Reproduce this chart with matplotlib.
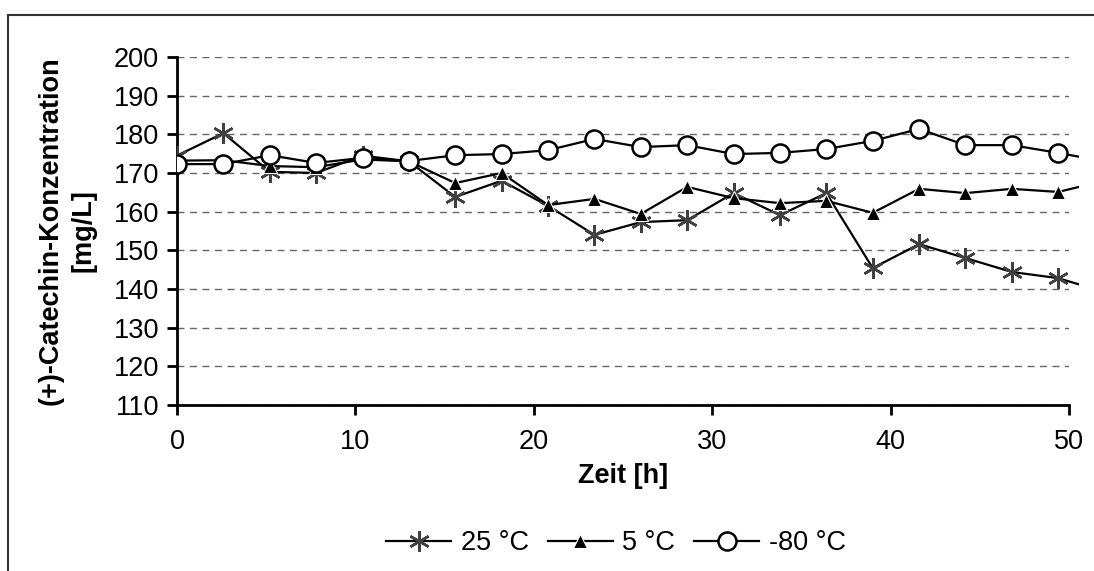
import matplotlib.pyplot as plt
from matplotlib.patches import Rectangle

plt.rcParams["font.family"] = ["Liberation Sans", "DejaVu Sans"]

# sampling times in hours (last one lies just past the axis end)
zeit = [0, 2.6, 5.2, 7.8, 10.4, 13.0, 15.6, 18.2, 20.8, 23.4, 26.0,
        28.6, 31.2, 33.8, 36.4, 39.0, 41.6, 44.2, 46.8, 49.4, 52.0]

c_25 = [174.5, 180.3, 170.3, 170.0, 174.5, 173.0, 163.8, 168.0, 161.5, 154.0, 157.3,
        157.8, 164.8, 159.1, 164.8, 145.4, 151.6, 148.0, 144.4, 142.8, 139.2]
c_5 = [173.2, 173.3, 171.8, 171.5, 173.5, 173.0, 167.4, 170.0, 161.7, 163.3, 159.4,
       166.4, 163.5, 162.2, 162.8, 159.7, 165.9, 164.8, 165.9, 165.1, 168.0]
c_m80 = [172.3, 172.3, 174.6, 172.6, 173.9, 173.1, 174.6, 174.9, 175.9, 178.8, 176.7,
         177.2, 174.9, 175.2, 176.2, 178.3, 181.4, 177.2, 177.2, 175.2, 173.0]

labels = ["25 °C", "5 °C", "-80 °C"]
fs = 19.5

fig = plt.figure(figsize=(10.94, 5.71), dpi=100)
ax = fig.add_axes([0.1618, 0.2907, 0.8153, 0.6095])

lines = []
lines += ax.plot(zeit, c_25, color="black", lw=1.6, marker=(6, 2, 0), ms=15,
                 mec="#404040", mew=1.8, label=labels[0], zorder=3)
lines += ax.plot(zeit, c_5, color="black", lw=1.6, marker="^", ms=9.5,
                 mfc="black", mec="white", mew=0.8, label=labels[1], zorder=4)
lines += ax.plot(zeit, c_m80, color="black", lw=1.6, marker="o", ms=13,
                 mfc="white", mec="black", mew=1.8, label=labels[2], zorder=5)

# plot area is a bit wider than the x axis
clip = Rectangle((0, -0.05), 1.011, 1.1, transform=ax.transAxes)
for ln in lines:
    ln.set_clip_path(clip)

ax.set_xlim(0, 50)
ax.set_ylim(110, 200)
ax.set_xticks(range(0, 51, 10))
ax.set_yticks(range(110, 201, 10))
ax.yaxis.grid(True, linestyle=(0, (5, 4)), color="#666666", lw=1)
ax.set_axisbelow(True)

for s in ["top", "right"]:
    ax.spines[s].set_visible(False)
for s in ["left", "bottom"]:
    ax.spines[s].set_linewidth(2)
ax.tick_params(direction="out", length=7, width=2, labelsize=fs, pad=6)
ax.tick_params(axis="x", pad=10)

ax.set_xlabel("Zeit [h]", fontsize=fs, fontweight="bold", labelpad=6)
ax.set_ylabel("(+)-Catechin-Konzentration\n[mg/L]", fontsize=fs,
              fontweight="bold", labelpad=12, linespacing=1.35)

fig.legend(handles=lines, loc="center", bbox_to_anchor=(0.563, 0.049), ncol=3,
           frameon=False, fontsize=fs, handlelength=2.4, columnspacing=0.7,
           handletextpad=0.35)

# outer chart border (only left and top fall inside the picture)
fig.patches.append(Rectangle((8 / 1094, -0.1), 1.2, 1.1 - 15 / 571,
                             transform=fig.transFigure, fill=False,
                             edgecolor="#333333", lw=1.5))

fig.savefig("out.png", dpi=100)
